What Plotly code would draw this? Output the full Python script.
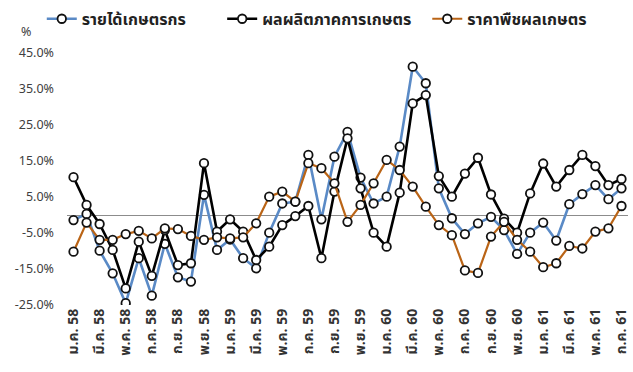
import plotly.graph_objects as go

# Monthly periods (Thai Buddhist-era years, Jan 2558 - Jul 2561)
periods = [
    "ม.ค. 58", "ก.พ. 58", "มี.ค. 58", "เม.ย. 58", "พ.ค. 58", "มิ.ย. 58",
    "ก.ค. 58", "ส.ค. 58", "ก.ย. 58", "ต.ค. 58", "พ.ย. 58", "ธ.ค. 58",
    "ม.ค. 59", "ก.พ. 59", "มี.ค. 59", "เม.ย. 59", "พ.ค. 59", "มิ.ย. 59",
    "ก.ค. 59", "ส.ค. 59", "ก.ย. 59", "ต.ค. 59", "พ.ย. 59", "ธ.ค. 59",
    "ม.ค. 60", "ก.พ. 60", "มี.ค. 60", "เม.ย. 60", "พ.ค. 60", "มิ.ย. 60",
    "ก.ค. 60", "ส.ค. 60", "ก.ย. 60", "ต.ค. 60", "พ.ย. 60", "ธ.ค. 60",
    "ม.ค. 61", "ก.พ. 61", "มี.ค. 61", "เม.ย. 61", "พ.ค. 61", "มิ.ย. 61",
    "ก.ค. 61",
]

# Year-on-year change (%)
farm_income = [
    -1.4, 0.3, -9.9, -16.2, -24.5, -12.0, -22.4, -8.0, -17.3, -18.5, 5.6, -9.7,
    -6.8, -12.0, -14.8, -4.9, 3.2, 3.7, 16.7, -1.2, 16.2, 23.1, 10.4, 3.2,
    5.1, 19.0, 41.2, 36.6, 7.4, -0.9, -5.3, -2.3, -0.5, -4.2, -10.8, -4.9,
    -2.1, -7.1, 3.0, 5.8, 8.3, 4.4, 7.4,
]
farm_output = [
    10.5, 2.8, -2.5, -9.7, -20.4, -7.4, -16.9, -4.2, -13.9, -13.4, 14.4, -4.6,
    -1.2, -4.6, -12.5, -8.8, -2.8, -0.3, 2.5, -12.0, 6.5, 21.3, 7.4, -4.9,
    -8.8, 6.2, 31.0, 33.3, 10.8, 5.1, 11.5, 15.9, 5.7, -1.0, -4.9, 6.0,
    14.3, 7.9, 12.5, 16.7, 13.6, 8.3, 10.0,
]
crop_price = [
    -10.2, -2.1, -6.9, -6.9, -5.3, -4.4, -6.5, -3.7, -3.9, -5.8, -6.9, -6.2,
    -6.5, -6.2, -2.3, 5.1, 6.5, 3.7, 14.4, 13.0, 8.8, -1.9, 2.8, 8.8,
    15.3, 12.5, 7.9, 2.3, -2.8, -5.6, -15.4, -16.1, -6.0, -1.9, -6.9, -10.2,
    -14.5, -13.4, -8.6, -9.3, -4.6, -3.7, 2.5,
]

series_names = ["รายได้เกษตรกร", "ผลผลิตภาคการเกษตร", "ราคาพืชผลเกษตร"]
y_ticks = [-25, -15, -5, 5, 15, 25, 35, 45]
y_tick_labels = ["-25.0%", "-15.0%", "-5.0%", "5.0%", "15.0%", "25.0%", "35.0%", "45.0%"]
x_tick_labels = periods[::2]

thai_font = "Tahoma, 'Noto Sans Thai', 'Leelawadee UI', 'Noto Sans', sans-serif"

fig = go.Figure()
styles = [
    (farm_income, "#5A8AC6", 2.6, "legend", 0.066),
    (farm_output, "#000000", 2.6, "legend2", 0.351),
    (crop_price, "#BA6416", 2.2, "legend3", 0.675),
]
legend_layouts = {}
for (vals, color, lw, leg, lx), name in zip(styles, series_names):
    fig.add_trace(go.Scatter(
        x=periods, y=vals, name=name, mode="lines+markers",
        line=dict(color=color, width=lw), legend=leg,
        marker=dict(symbol="circle", size=8.5, color="white",
                    line=dict(color="#111111", width=1.8)),
    ))
    legend_layouts[leg] = dict(
        orientation="h", xref="container", yref="container",
        x=lx, y=0.995, xanchor="left", yanchor="top",
        font=dict(size=16, color="#222222", family=thai_font, weight="bold"),
        itemwidth=30, bgcolor="rgba(0,0,0,0)",
    )

fig.update_layout(
    width=633, height=372,
    margin=dict(l=67, r=1, t=53, b=67),
    paper_bgcolor="white", plot_bgcolor="white",
    font=dict(family=thai_font, color="#404040"),
    showlegend=True,
    **legend_layouts,
    xaxis=dict(
        type="category", categoryorder="array", categoryarray=periods,
        range=[-0.5, 42.5], tickmode="array",
        tickvals=x_tick_labels, ticktext=x_tick_labels,
        tickangle=-90, showgrid=False, zeroline=False, showline=False,
        ticks="", tickfont=dict(size=14, color="#333333", family=thai_font, weight="bold"),
    ),
    yaxis=dict(
        range=[-25, 45], tickmode="array", tickvals=y_ticks,
        ticktext=y_tick_labels, showgrid=False, showline=False,
        zeroline=True, zerolinecolor="#8C8C8C", zerolinewidth=1.3,
        ticks="", ticklabelstandoff=12,
        tickfont=dict(size=12.5, color="#404040"),
    ),
    annotations=[dict(
        text="%", xref="paper", yref="paper", x=-0.073, y=1.0,
        xanchor="center", yanchor="bottom", showarrow=False, yshift=9,
        font=dict(size=12.5, color="#404040"),
    )],
)

fig.write_html("out.html")
